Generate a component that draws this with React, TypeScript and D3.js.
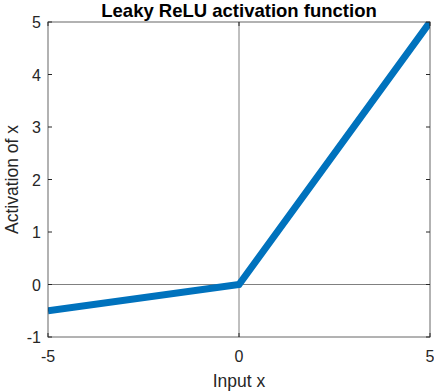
import React from "react";
import * as d3 from "d3";

// leaky ReLU, slope 0.1 for negative inputs
const inputX = [-5, 0, 5];
const activation = [-0.5, 0, 5];
const xTicks = [-5, 0, 5];
const yTicks = [-1, 0, 1, 2, 3, 4, 5];

const W = 434;
const H = 392;
const margin = { top: 22, right: 4, bottom: 55, left: 48 };

export default function App() {
  const x = d3.scaleLinear().domain([-5, 5]).range([margin.left, W - margin.right]);
  const y = d3.scaleLinear().domain([-1, 5]).range([H - margin.bottom, margin.top]);

  const pts = inputX.map((v, i) => [v, activation[i]] as [number, number]);
  const line = d3
    .line<[number, number]>()
    .x((d) => x(d[0]))
    .y((d) => y(d[1]));

  const axisColor = "#262626";
  const font = "'Liberation Sans', Arial, sans-serif";
  const x0 = x.range()[0];
  const x1 = x.range()[1];
  const y0 = y.range()[0];
  const y1 = y.range()[1];

  return (
    <svg
      width={W}
      height={H}
      style={{ position: "absolute", left: 0, top: 0, background: "#fff" }}
      fontFamily={font}
    >
      <defs>
        <clipPath id="plotArea">
          <rect x={x0} y={y1} width={x1 - x0} height={y0 - y1} />
        </clipPath>
      </defs>

      {/* zero lines */}
      <line x1={x(0)} x2={x(0)} y1={y1} y2={y0} stroke="#808080" strokeWidth={1} />
      <line x1={x0} x2={x1} y1={y(0)} y2={y(0)} stroke="#808080" strokeWidth={1} />

      <path
        d={line(pts) ?? ""}
        fill="none"
        stroke="#0072BD"
        strokeWidth={7}
        clipPath="url(#plotArea)"
      />

      {/* box */}
      <rect x={x0} y={y1} width={x1 - x0} height={y0 - y1} fill="none" stroke={axisColor} strokeOpacity={0.7} strokeWidth={1} />

      {/* ticks */}
      {xTicks.map((t) => (
        <g key={"x" + t}>
          <line x1={x(t)} x2={x(t)} y1={y0} y2={y0 - 4} stroke={axisColor} />
          <line x1={x(t)} x2={x(t)} y1={y1} y2={y1 + 4} stroke={axisColor} />
          <text x={x(t)} y={y0 + 25} textAnchor="middle" fontSize={16} fill={axisColor}>
            {t}
          </text>
        </g>
      ))}
      {yTicks.map((t) => (
        <g key={"y" + t}>
          <line x1={x0} x2={x0 + 4} y1={y(t)} y2={y(t)} stroke={axisColor} />
          <line x1={x1} x2={x1 - 4} y1={y(t)} y2={y(t)} stroke={axisColor} />
          <text x={x0 - 7} y={y(t) + 6} textAnchor="end" fontSize={16} fill={axisColor}>
            {t}
          </text>
        </g>
      ))}

      <text x={x(0)} y={17} textAnchor="middle" fontSize={18.5} fontWeight="bold" fill="#000">
        Leaky ReLU activation function
      </text>
      <text x={x(0)} y={387} textAnchor="middle" fontSize={17.5} fill={axisColor}>
        Input x
      </text>
      <text
        transform={`translate(18, ${(y0 + y1) / 2}) rotate(-90)`}
        textAnchor="middle"
        fontSize={17.5}
        fill={axisColor}
      >
        Activation of x
      </text>
    </svg>
  );
}
